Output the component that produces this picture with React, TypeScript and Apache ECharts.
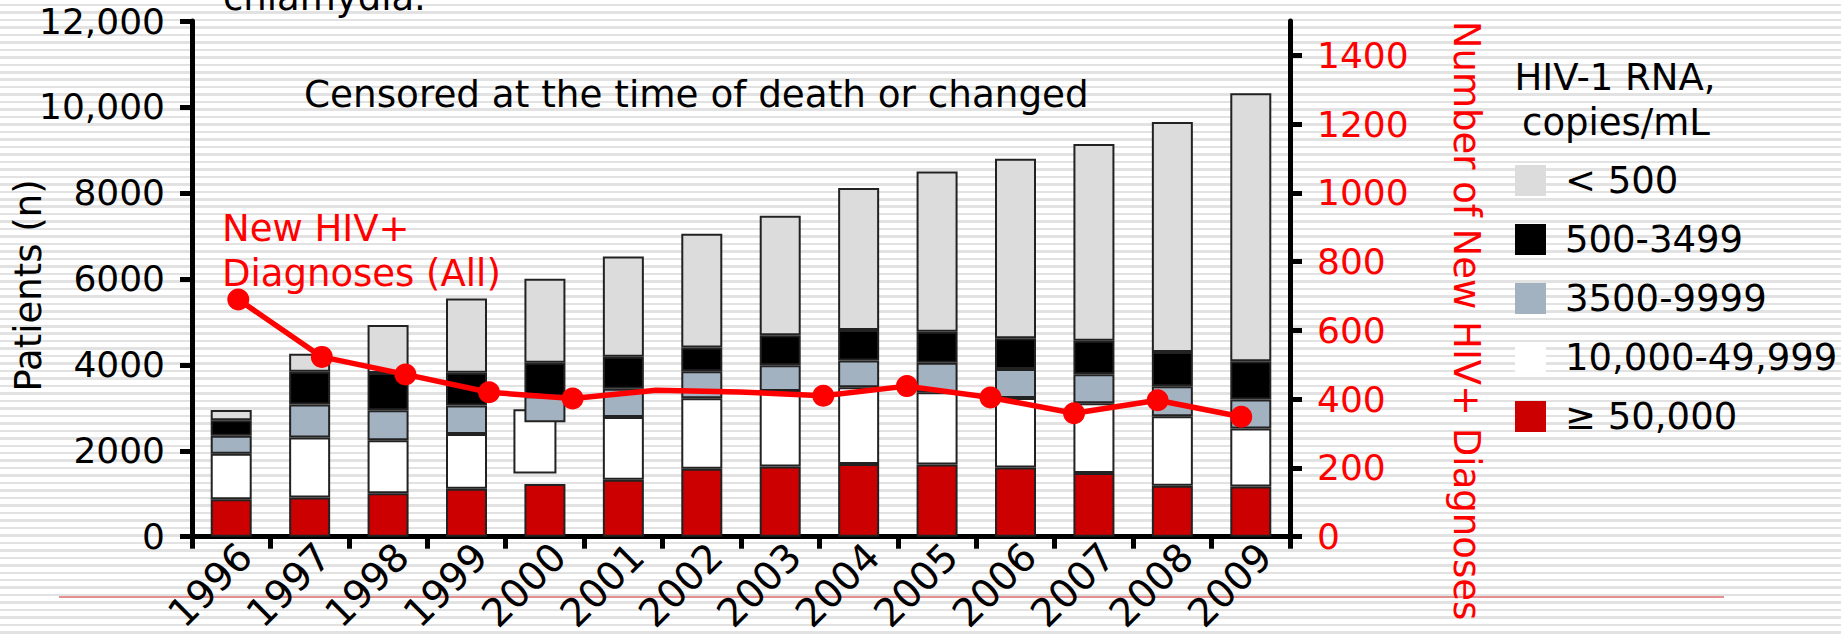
import React, { useEffect, useRef } from 'react';
import * as echarts from 'echarts';

const years = ['1996', '1997', '1998', '1999', '2000', '2001', '2002', '2003', '2004', '2005', '2006', '2007', '2008', '2009'];
const lineYears = ['1996', '1997', '1998', '1999', '2000', '2001', '2002', '2003', '2004', '2005', '2006', '2007', '2008'];

// stacked segments (patients, n)
const rnaGe50000 = [870, 910, 1010, 1115, 1225, 1325, 1580, 1635, 1690, 1680, 1610, 1480, 1185, 1170];
const gap2000: (number | string)[] = ['-', '-', '-', '-', 1440, '-', '-', '-', '-', '-', '-', '-', '-', '-'];
const rna10000to49999: (number | string)[] = [1060, 1400, 1235, 1275, '-', 1460, 1640, 1755, 1790, 1680, 1615, 1625, 1620, 1350];
const rna3500to9999 = [420, 765, 695, 665, 605, 660, 630, 600, 620, 685, 675, 675, 695, 675];
const rna500to3499 = [360, 765, 870, 760, 775, 740, 550, 700, 710, 725, 720, 780, 800, 885];
const rnaLt500 = [240, 415, 1115, 1730, 1955, 2335, 2650, 2780, 3305, 3730, 4175, 4575, 5350, 6240];
// displaced 10,000-49,999 box drawn for 2000: [year, low, high]
const displaced2000 = [['2000', 1495, 2945]];

// new HIV+ diagnoses (right axis)
const newDiagnoses = [690, 523, 472, 420, 402, 426, 421, 410, 438, 405, 359, 397, 349];
const unmarkedPoints = [5, 6];

const leftTicks = [0, 2000, 4000, 6000, 8000, 10000, 12000];
const leftTickLabels = ['0', '2000', '4000', '6000', '8000', '10,000', '12,000'];
const rightTicks = [0, 200, 400, 600, 800, 1000, 1200, 1400];
const rightTickLabels = ['0', '200', '400', '600', '800', '1000', '1200', '1400'];

const legendNames = ['< 500', '500-3499', '3500-9999', '10,000-49,999', '\u2265 50,000'];

const FONT = '"DejaVu Sans", Verdana, sans-serif';
const BAR_W = 41;

export default function App() {
  const ref = useRef<HTMLDivElement>(null);
  useEffect(() => {
    if (!ref.current) return;
    const chart = echarts.init(ref.current, null, { renderer: 'svg' });
    const border = { borderColor: '#222', borderWidth: 2 };
    const barBase = {
      type: 'bar',
      stack: 'rna',
      xAxisIndex: 0,
      yAxisIndex: 0,
      barWidth: BAR_W,
      z: 2,
    };
    const option: any = {
      animation: false,
      backgroundColor: 'transparent',
      textStyle: { fontFamily: FONT },
      grid: [
        { left: 192, right: 551, top: 21, bottom: 99.3 },
        { left: 196.5, right: 558, top: 21, bottom: 99.3 },
        { left: 206, right: 537, top: 21, bottom: 99.3 },
      ],
      xAxis: [
        {
          gridIndex: 0,
          type: 'category',
          data: years,
          boundaryGap: true,
          axisLine: { show: true, lineStyle: { color: '#000', width: 5 } },
          axisTick: { show: true, interval: 0, length: 12, lineStyle: { color: '#000', width: 5 } },
          axisLabel: { show: false },
          splitLine: { show: false },
        },
        { gridIndex: 1, type: 'category', data: lineYears, show: false },
        {
          gridIndex: 2,
          type: 'category',
          data: years,
          axisLine: { show: false },
          axisTick: { show: false },
          axisLabel: { show: true, interval: 0, rotate: 45, margin: 27, fontSize: 39, color: '#000', fontFamily: FONT },
          splitLine: { show: false },
        },
      ],
      yAxis: [
        {
          gridIndex: 0,
          type: 'value',
          min: 0,
          max: 12000,
          interval: 2000,
          axisLine: { show: true, lineStyle: { color: '#000', width: 5 } },
          axisTick: { show: true, length: 12, lineStyle: { color: '#000', width: 5 } },
          axisLabel: {
            margin: 27,
            fontSize: 36,
            color: '#000',
            fontFamily: FONT,
            formatter: (v: number) => {
              const i = leftTicks.indexOf(v);
              return i >= 0 ? leftTickLabels[i] : String(v);
            },
          },
          splitLine: { show: false },
        },
        {
          gridIndex: 0,
          type: 'value',
          position: 'right',
          min: 0,
          max: 1500,
          interval: 200,
          axisLine: { show: true, lineStyle: { color: '#000', width: 5 } },
          axisTick: { show: true, length: 12, customValues: rightTicks, lineStyle: { color: '#000', width: 5 } },
          axisLabel: {
            customValues: rightTicks,
            margin: 27,
            fontSize: 36,
            color: '#ff0000',
            fontFamily: FONT,
            formatter: (v: number) => {
              const i = rightTicks.indexOf(v);
              return i >= 0 ? rightTickLabels[i] : String(v);
            },
          },
          splitLine: { show: false },
        },
        { gridIndex: 1, type: 'value', min: 0, max: 1500, show: false },
        { gridIndex: 2, type: 'value', show: false },
      ],
      legend: {
        orient: 'vertical',
        left: 1510,
        top: 152,
        itemWidth: 31,
        itemHeight: 31,
        itemGap: 12,
        icon: 'rect',
        selectedMode: false,
        data: legendNames,
        itemStyle: { borderWidth: 0 },
        textStyle: { fontSize: 37, color: '#000', fontFamily: FONT, lineHeight: 37, padding: [10, 0, 0, 14] },
      },
      series: [
        {
          type: 'custom',
          xAxisIndex: 0,
          yAxisIndex: 0,
          z: 1,
          data: displaced2000,
          encode: { x: 0, y: [1, 2] },
          renderItem: (params: any, api: any) => {
            const xi = api.value(0);
            const top = api.coord([xi, api.value(2)]);
            const bot = api.coord([xi, api.value(1)]);
            return {
              type: 'rect',
              shape: { x: top[0] - BAR_W / 2 - 10, y: top[1], width: BAR_W, height: bot[1] - top[1] },
              style: { fill: '#ffffff', stroke: '#222', lineWidth: 2 },
            };
          },
        },
        { ...barBase, name: legendNames[4], data: rnaGe50000, itemStyle: { color: '#cc0000', ...border } },
        { ...barBase, name: 'gap', data: gap2000, silent: true, itemStyle: { color: 'rgba(0,0,0,0)', borderWidth: 0 } },
        { ...barBase, name: legendNames[3], data: rna10000to49999, itemStyle: { color: '#ffffff', ...border } },
        { ...barBase, name: legendNames[2], data: rna3500to9999, itemStyle: { color: '#a3b2c1', ...border } },
        { ...barBase, name: legendNames[1], data: rna500to3499, itemStyle: { color: '#000000', ...border } },
        { ...barBase, name: legendNames[0], data: rnaLt500, itemStyle: { color: '#dcdcdc', ...border } },
        {
          type: 'line',
          name: 'New HIV+ Diagnoses (All)',
          xAxisIndex: 1,
          yAxisIndex: 2,
          z: 10,
          data: newDiagnoses.map((v, i) => (unmarkedPoints.includes(i) ? { value: v, symbol: 'none' } : v)),
          symbol: 'circle',
          symbolSize: 22,
          lineStyle: { color: '#ff0000', width: 5.5 },
          itemStyle: { color: '#ff0000' },
        },
      ],
      graphic: [
        { type: 'text', x: 223, y: -3, style: { text: 'chlamydia.', font: `37px ${FONT}`, fill: '#000', align: 'left', verticalAlign: 'middle' } },
        { type: 'text', x: 304, y: 94, style: { text: 'Censored at the time of death or changed', font: `37.3px ${FONT}`, fill: '#000', align: 'left', verticalAlign: 'middle' } },
        { type: 'text', x: 222, y: 228, z: 20, style: { text: 'New HIV+', font: `37px ${FONT}`, fill: '#ff0000', align: 'left', verticalAlign: 'middle' } },
        { type: 'text', x: 222, y: 273, z: 20, style: { text: 'Diagnoses (All)', font: `37px ${FONT}`, fill: '#ff0000', align: 'left', verticalAlign: 'middle' } },
        { type: 'text', x: 1615, y: 77, style: { text: 'HIV-1 RNA,', font: `37px ${FONT}`, fill: '#000', align: 'center', verticalAlign: 'middle' } },
        { type: 'text', x: 1616, y: 122, style: { text: 'copies/mL', font: `37px ${FONT}`, fill: '#000', align: 'center', verticalAlign: 'middle' } },
        { type: 'text', x: 28, y: 285.5, rotation: Math.PI / 2, style: { text: 'Patients (n)', font: `37px ${FONT}`, fill: '#000', align: 'center', verticalAlign: 'middle' } },
        { type: 'text', x: 1466, y: 320.5, rotation: -Math.PI / 2, style: { text: 'Number of New HIV+ Diagnoses', font: `37px ${FONT}`, fill: '#ff0000', align: 'center', verticalAlign: 'middle' } },
        { type: 'line', shape: { x1: 59, y1: 597, x2: 1724, y2: 597 }, style: { stroke: '#dc6b6b', lineWidth: 1.5 }, z: -1 },
      ],
    };
    chart.setOption(option);
    return () => chart.dispose();
  }, []);

  return (
    <div
      style={{
        position: 'fixed',
        left: 0,
        top: 0,
        width: 1841,
        height: 636,
        background:
          'repeating-linear-gradient(to bottom, #ffffff 0px, #ffffff 3.8px, #e2e2e2 3.8px, #e2e2e2 6.3px, #ffffff 6.3px, #ffffff 7.47px)',
      }}
    >
      <div ref={ref} style={{ width: 1841, height: 636 }} />
    </div>
  );
}
